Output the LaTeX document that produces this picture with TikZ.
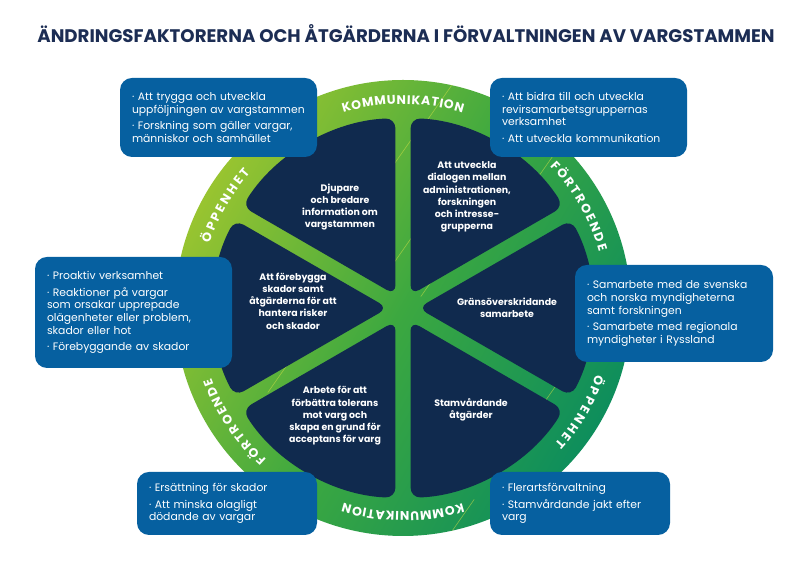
\documentclass[tikz,border=0pt]{standalone}
\usepackage{fontspec}
\setmainfont{Poppins}
\usetikzlibrary{decorations.text,calc}
\definecolor{titlecol}{RGB}{28,45,84}
\definecolor{boxcol}{RGB}{6,96,160}
\definecolor{sectcol}{RGB}{16,42,78}
\definecolor{ringA}{RGB}{152,196,48}
\definecolor{ringB}{RGB}{60,168,64}
\definecolor{ringC}{RGB}{14,142,92}
\definecolor{decol}{RGB}{215,225,70}
\begin{document}
\begin{tikzpicture}[x=1pt,y=1pt,
  infobox/.style={fill=boxcol, rounded corners=12pt, text=white, align=left, inner xsep=12pt,
    font=\fontsize{10.8}{12.7}\selectfont},
  secttext/.style={text=white, align=center, font=\fontsize{9.4}{12.2}\selectfont\bfseries, inner sep=0pt},
  sector/.style={fill=sectcol, rounded corners=10pt},
  ringlabel/.style={decorate, decoration={text along path, text color=white, text align={fit to path},
    text={|\fontsize{12.5}{12.5}\selectfont\bfseries|#1}}},
  decoline/.style={draw=decol, opacity=.55, line width=.6pt},
]
\useasboundingbox (0,0) rectangle (807,569);
\fill[white] (0,0) rectangle (807,569);
\node[font=\fontsize{18.2}{21}\selectfont\bfseries, text=titlecol] (title) at (406,535)
  {ÄNDRINGSFAKTORERNA OCH ÅTGÄRDERNA I FÖRVALTNINGEN AV VARGSTAMMEN};

\coordinate (C) at (403,261);
\shade[top color=ringA, bottom color=ringC, middle color=ringB, shading angle=60] (C) circle[radius=228pt];

\begin{scope}
\clip (C) circle[radius=228pt];
\foreach \px/\py in {440/467,404/419,548/406,555/182,285/201,457/45,438/297,405/322}{
  \coordinate (dp) at (\px,\py);
  \draw[decoline] ($(dp)+(235:30pt)$) -- ($(dp)+(55:30pt)$);
}
\end{scope}

\foreach \a in {30,90,150,210,270,330}{
  \pgfmathsetmacro\m{\a+30}
  \pgfmathsetmacro\s{\a+2.3}
  \pgfmathsetmacro\e{\a+60-2.3}
  \fill[sector] ($(C)+(\m:15pt)$) -- ($(C)+(\s:190pt)$) arc[start angle=\s, end angle=\e, radius=190pt] -- cycle;
}

\path[ringlabel=KOMMUNIKATION] ($(C)+(107:204pt)$) arc[start angle=107, end angle=73, radius=204pt];
\path[ringlabel=FÖRTROENDE] ($(C)+(44:204pt)$) arc[start angle=44, end angle=16, radius=204pt];
\path[ringlabel=ÖPPENHET] ($(C)+(-19:204pt)$) arc[start angle=-19, end angle=-42, radius=204pt];
\path[ringlabel=KOMMUNIKATION] ($(C)+(-73:204pt)$) arc[start angle=-73, end angle=-107, radius=204pt];
\path[ringlabel=FÖRTROENDE] ($(C)+(-132:204pt)$) arc[start angle=-132, end angle=-160, radius=204pt];
\path[ringlabel=ÖPPENHET] ($(C)+(161.5:204pt)$) arc[start angle=161.5, end angle=138.5, radius=204pt];

\node[secttext] (s1) at (340,362) {Djupare\\och bredare\\information om\\vargstammen};
\node[secttext] (s2) at (467,372) {Att utveckla\\dialogen mellan\\administrationen,\\forskningen\\och intresse-\\grupperna};
\node[secttext] (s3) at (293,268) {Att förebygga\\skador samt\\åtgärderna för att\\hantera risker\\och skador};
\node[secttext] (s4) at (507,261) {Gränsöverskridande\\samarbete};
\node[secttext] (s5) at (335,153) {Arbete för att\\förbättra tolerans\\mot varg och\\skapa en grund för\\acceptans för varg};
\node[secttext] (s6) at (471,159) {Stamvårdande\\åtgärder};

\node[infobox, minimum width=197pt, minimum height=79pt, text width=173pt] (tl) at (218.5,451.5)
  {· Att trygga och utveckla\\uppföljningen av vargstammen\\[4pt]· Forskning som gäller vargar,\\människor och samhället};
\node[infobox, minimum width=197pt, minimum height=79pt, text width=173pt] (tr) at (588.5,451.5)
  {· Att bidra till och utveckla\\revirsamarbetsgruppernas\\verksamhet\\[4pt]· Att utveckla kommunikation};
\node[infobox, minimum width=197pt, minimum height=111pt, text width=173pt] (l) at (133.5,256.5)
  {· Proaktiv verksamhet\\[4pt]· Reaktioner på vargar\\som orsakar upprepade\\olägenheter eller problem,\\skador eller hot\\[4pt]· Förebyggande av skador};
\node[infobox, minimum width=198pt, minimum height=97pt, text width=174pt] (r) at (674,255.5)
  {· Samarbete med de svenska\\och norska myndigheterna\\samt forskningen\\[4pt]· Samarbete med regionala\\myndigheter i Ryssland};
\node[infobox, minimum width=180pt, minimum height=63pt, text width=156pt] (bl) at (227,65.5)
  {· Ersättning för skador\\[4pt]· Att minska olagligt\\dödande av vargar};
\node[infobox, minimum width=180pt, minimum height=63pt, text width=156pt] (br) at (580,65.5)
  {· Flerartsförvaltning\\[4pt]· Stamvårdande jakt efter\\varg};
\end{tikzpicture}
\end{document}
